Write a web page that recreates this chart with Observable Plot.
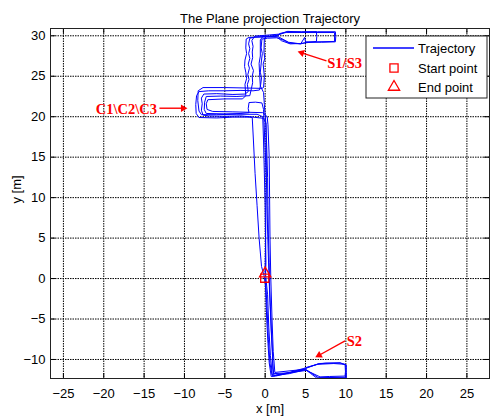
<!DOCTYPE html>
<html><head><meta charset="utf-8">
<script src="https://cdn.jsdelivr.net/npm/d3@7"></script>
<script src="https://cdn.jsdelivr.net/npm/@observablehq/plot@0.6"></script>
<style>body{margin:0;background:#fff}</style>
</head><body><div id="chart"></div>
<script>
const titleText = "The Plane projection Trajectory";
const xLabel = "x [m]";
const yLabel = "y [m]";
const xTicks = [-25, -20, -15, -10, -5, 0, 5, 10, 15, 20, 25];
const yTicks = [-10, -5, 0, 5, 10, 15, 20, 25, 30];
const xDomain = [-26.6, 27.8];
const yDomain = [-12.35, 30.9];

// trajectory laps ([x, y] in metres)
const lap1 = [[0.0,0.0],[0.1,-2.5],[0.2,-5.2],[0.35,-8],[0.5,-10.4],[0.75,-12.1],
[1.3,-12.05],[2.8,-11.7],[4.8,-11.2],[5.3,-11.0],[6.0,-10.75],[6.6,-10.55],[7.5,-10.45],[9.3,-10.45],[10.05,-10.65],[10.05,-12.3],[8.2,-12.3],[6.4,-12.3],[5.6,-11.7],[5.0,-11.25],[3.0,-11.75],[1.1,-12.0],
[0.95,-11.2],[0.9,-9],[0.75,-6.5],[0.65,-3.5],[0.55,-1],[0.5,2],[0.4,5.5],[0.35,9],[0.3,12.5],[0.2,16],[0.1,19.2],[-0.2,19.8],
[-1.5,19.95],[-3,20.1],[-5,20.05],[-7,20.1],[-7.7,20.2],[-7.9,20.8],[-7.8,21.6],[-7.9,22.3],[-7.6,22.8],[-6,22.85],[-4,22.75],[-2.5,22.8],[-2.1,23.1],
[-2.2,24],[-2.0,24.6],[-2.15,25.2],[-1.95,26],[-2.1,26.5],[-1.9,27.2],[-2.05,27.8],[-1.9,28.4],[-2.05,29.0],[-1.9,29.7],[-1.2,29.85],[0.5,29.95],[1.5,30.05],[2.7,30.5],[4.5,30.5],[6.5,30.5],[8.7,30.5],[8.75,29.9],[8.7,29.25],[7,29.2],[5.2,29.2],[4.4,29.0],[3.0,29.1],[2.2,29.5],[1.4,29.75],[0.3,29.7],[-0.4,29.6],
[-0.5,28.5],[-0.35,27.8],[-0.45,27],[-0.6,25.5],[-0.45,24.8],[-0.55,24],[-0.7,23.3],[-1.5,23.2],[-3,23.25],[-5,23.2],[-7,23.2],[-8.2,23.1],[-8.5,22.6],[-8.6,21.5],[-8.55,20.4],[-8.2,19.9],[-6,19.85],[-4,19.95],[-2,19.95],[-1.6,19.9],
[-1.45,17],[-1.35,15],[-1.25,13],[-1.0,9],[-0.75,5],[-0.45,1.5],[-0.15,0.4]];
const lap2 = [[0.1,-1],[0.25,-4],[0.4,-7.5],[0.6,-10.5],[0.85,-11.9],[1.2,-11.95],[3,-11.6],[4.8,-11.1],[5.2,-10.95],[6.5,-10.6],[8.5,-10.5],[9.9,-10.6],[9.95,-11.5],[9.9,-12.05],[8,-12.1],[6.8,-12.15],[5.1,-11.35],[3,-11.65],[1.05,-11.75],
[0.95,-10.5],[0.8,-7],[0.6,-3],[0.45,1],[0.3,6],[0.2,11],[0.0,16],[-0.15,19.5],[-0.2,20.9],[-0.4,21.7],[-1.2,21.8],[-2.0,21.75],[-2.1,21.0],[-2.0,20.5],[-3,20.4],[-5,20.35],[-7.3,20.4],[-7.55,20.9],[-7.5,21.8],[-7.3,22.5],[-5.5,22.55],[-3.5,22.5],[-1.9,22.6],
[-1.7,23.5],[-1.55,24.2],[-1.6,25],[-1.45,25.7],[-1.75,26.5],[-1.55,27.3],[-1.6,28],[-1.5,28.7],[-1.65,29.4],[-1.3,29.95],[0.5,30.1],[1.7,30.2],[2.8,30.55],[4.5,30.45],[6.35,30.5],[6.4,29.9],[6.35,29.3],[4.4,29.05],[3.1,29.0],[2.0,29.4],[1.5,29.85],[0.2,29.9],[-0.1,29.7],
[-0.15,28],[-0.05,27.2],[-0.25,26.5],[-0.1,25],[-0.2,23.6],[-0.4,23.5],[-2.5,23.55],[-5,23.6],[-7.7,23.6],[-8.3,23.2],[-8.35,22],[-8.2,20.7],[-7.9,20.25],[-6,20.25],[-3.5,20.3],[-1.0,20.3],[-0.3,20.0],
[-0.2,17],[-0.1,13],[0.0,9],[0.05,5],[0.1,2],[0.05,0.5]];
const lap3 = [[0.3,-2],[0.45,-6],[0.65,-9.5],[0.9,-12.05],[1.4,-11.95],[4.7,-11.3],[5.2,-11.0],[6.7,-10.5],[9.3,-10.4],[10.0,-10.7],[10.0,-12.2],[6.6,-12.25],[5.0,-11.2],[1.2,-11.6],
[1.0,-9],[0.85,-5],[0.7,0],[0.6,5],[0.55,10],[0.5,15],[0.35,19],[0.25,20.0],[-0.3,20.5],[-4,20.6],[-6.5,20.65],[-7.2,20.9],[-7.3,21.6],[-7.1,22.1],[-5,22.2],[-2.8,22.2],[-2.4,22.6],
[-2.5,24],[-2.3,24.7],[-2.4,25.5],[-2.55,26.2],[-2.5,27],[-2.3,27.8],[-2.4,28.5],[-2.35,29.6],[-2,29.8],[0,29.85],[1.2,29.9],[1.9,30.3],[2.6,30.4],[5,30.4],[8.6,30.4],[8.6,29.3],[6.3,29.25],[5.0,29.25],[4.9,29.8],[4.4,29.0],[2.9,29.2],[1.5,29.95],[-0.3,29.9],[-0.6,29.5],
[-0.6,27.5],[-0.75,26.6],[-0.7,25.5],[-0.6,23.8],[-0.2,23],[-0.1,21.5],[0.1,19],[0.15,14],[0.1,9],[0.05,4],[0.0,1],[0.0,0.6]];

const startPoint = [[-0.05, 0.05]];
const endPoint = [[0.0, 0.6]];

const annLabels = ["S1/S3", "C1\\C2\\C3", "S2"];
const annTailX = [7.6, -13.1, 9.9];
const annTailY = [26.9, 21.05, -7.7];
const annTipX = [3.9, -9.5, 6.1];
const annTipY = [28.1, 21.05, -9.8];
const annTextX = [7.7, -13.4, 10.1];
const annTextY = [26.6, 20.85, -7.75];
const annAnchor = ["start", "end", "start"];

const legendItems = ["Trajectory", "Start point", "End point"];

const trajectory = [...lap1, ...lap2, ...lap3];

// arrow geometry (head centred slightly behind the tip)
const arrows = annLabels.map((label, i) => {
  const dx = annTipX[i] - annTailX[i], dy = annTipY[i] - annTailY[i];
  const len = Math.hypot(dx, dy);
  const back = 0.67;
  return {
    label,
    x1: annTailX[i], y1: annTailY[i],
    hx: annTipX[i] - dx / len * back, hy: annTipY[i] - dy / len * back,
    rot: Math.atan2(dx, dy) * 180 / Math.PI,
    tx: annTextX[i], ty: annTextY[i], anchor: annAnchor[i]
  };
});

const W = 490, H = 418, mL = 50, mR = 1, mT = 28, mB = 40;
const fw = W - mL - mR, fh = H - mT - mB;
const font = "'Liberation Sans', Arial, Helvetica, sans-serif";
const serif = "'Liberation Serif', 'Times New Roman', serif";

const chart = Plot.plot({
  width: W, height: H,
  marginLeft: mL, marginRight: mR, marginTop: mT, marginBottom: mB,
  style: {fontFamily: font, fontSize: "13px", background: "#fff", color: "#000"},
  x: {domain: xDomain},
  y: {domain: yDomain},
  marks: [
    Plot.gridX(xTicks, {stroke: "#000", strokeOpacity: 1, strokeDasharray: "1.5,1"}),
    Plot.gridY(yTicks, {stroke: "#000", strokeOpacity: 1, strokeDasharray: "1.5,1"}),
    Plot.tickX(xTicks, {x: d => d, insetTop: fh - 5, stroke: "#000"}),
    Plot.tickX(xTicks, {x: d => d, insetBottom: fh - 5, stroke: "#000"}),
    Plot.tickY(yTicks, {y: d => d, insetRight: fw - 5, stroke: "#000"}),
    Plot.tickY(yTicks, {y: d => d, insetLeft: fw - 5, stroke: "#000"}),
    Plot.line(trajectory, {x: d => d[0], y: d => d[1], stroke: "#0000ff", strokeWidth: 1, curve: "linear"}),
    Plot.dot(startPoint, {x: d => d[0], y: d => d[1], symbol: "square", r: 4.6, stroke: "#ff0000", fill: "none", strokeWidth: 1.3}),
    Plot.dot(endPoint, {x: d => d[0], y: d => d[1], symbol: "triangle", r: 4.2, stroke: "#ff0000", fill: "none", strokeWidth: 1.3}),
    Plot.link(arrows, {x1: "x1", y1: "y1", x2: "hx", y2: "hy", stroke: "#ff0000", strokeWidth: 1.4}),
    Plot.dot(arrows, {x: "hx", y: "hy", symbol: "triangle2", r: 3.6, fill: "#ff0000", rotate: "rot"}),
    Plot.text(arrows, {filter: d => d.anchor === "start", x: "tx", y: "ty", text: "label", textAnchor: "start", fill: "#ff0000", fontFamily: serif, fontWeight: "bold", fontSize: 14.5}),
    Plot.text(arrows, {filter: d => d.anchor === "end", x: "tx", y: "ty", text: "label", textAnchor: "end", fill: "#ff0000", fontFamily: serif, fontWeight: "bold", fontSize: 14.5}),
    Plot.frame({stroke: "#222", strokeWidth: 1}),
    Plot.axisX(xTicks, {tickSize: 0, tickPadding: 10, fontSize: 13, label: null}),
    Plot.axisY(yTicks, {tickSize: 0, tickPadding: 5, fontSize: 13, label: null}),
    Plot.text([titleText], {frameAnchor: "top", dy: -15, fontSize: 13, fill: "#000"}),
    Plot.text([xLabel], {frameAnchor: "bottom", dy: 34, fontSize: 13, fill: "#000"}),
    Plot.text([yLabel], {frameAnchor: "left", dx: -34, rotate: -90, fontSize: 13, fill: "#000"})
  ]
});

// legend box in the upper right of the axes
const svg = d3.select(chart);
const lg = svg.append("g").attr("font-family", font).attr("font-size", 13).attr("text-anchor", "start");
const bx = 366, by = 36, bw = 121, bh = 62;
lg.append("rect").attr("x", bx).attr("y", by).attr("width", bw).attr("height", bh)
  .attr("fill", "#fff").attr("stroke", "#222").attr("stroke-width", 1);
const rowY = [48, 68, 87];
lg.append("line").attr("x1", 373).attr("x2", 414).attr("y1", rowY[0]).attr("y2", rowY[0])
  .attr("stroke", "#0000ff").attr("stroke-width", 1.3);
lg.append("path").attr("d", d3.symbol(d3.symbolSquare, Math.PI * 4.6 * 4.6)()).attr("transform", `translate(394,${rowY[1]})`)
  .attr("fill", "none").attr("stroke", "#ff0000").attr("stroke-width", 1.3);
lg.append("path").attr("d", d3.symbol(d3.symbolTriangle, Math.PI * 4.2 * 4.2)()).attr("transform", `translate(394,${rowY[2]})`)
  .attr("fill", "none").attr("stroke", "#ff0000").attr("stroke-width", 1.3);
legendItems.forEach((t, i) => {
  lg.append("text").attr("x", 418).attr("y", rowY[i]).attr("dy", "0.35em").attr("fill", "#000").attr("text-anchor", "start").text(t);
});

document.getElementById("chart").appendChild(chart);
</script>
</body></html>
